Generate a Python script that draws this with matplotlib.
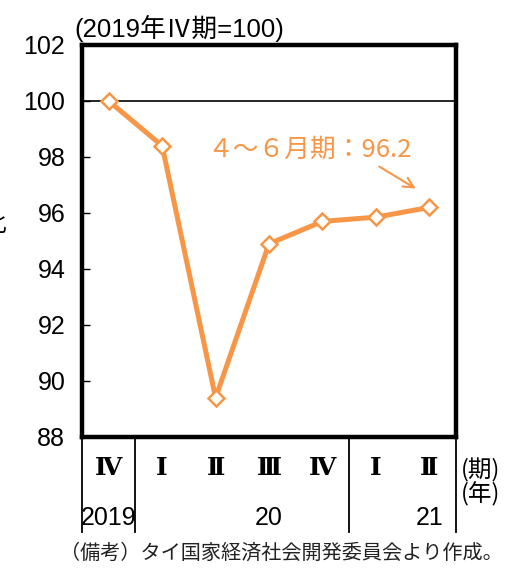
import matplotlib
matplotlib.use("Agg")
import matplotlib.pyplot as plt

plt.rcParams['font.family'] = ['Liberation Sans', 'Noto Sans CJK JP']

quarters = ["Ⅳ", "Ⅰ", "Ⅱ", "Ⅲ", "Ⅳ", "Ⅰ", "Ⅱ"]
years = ["2019", "20", "21"]
year_centers = [0, 3, 6]
year_bounds = [-0.5, 0.5, 4.5, 6.5]
index_vals = [100.0, 98.4, 89.4, 94.9, 95.7, 95.85, 96.2]

orange = "#F79646"
cjk = ['Noto Sans CJK JP', 'DejaVu Sans']

fig = plt.figure(figsize=(5.06, 5.69), dpi=100)
ax = fig.add_axes([82 / 506, 1 - 437 / 569, 374 / 506, 392 / 569])

x = list(range(len(index_vals)))
ax.axhline(100, color="black", lw=1.2, zorder=1)
ax.plot(x, index_vals, color=orange, lw=3.6, marker="D", ms=8,
        mfc="white", mec=orange, mew=1.8, zorder=3)

ax.set_xlim(-0.5, 6.5)
ax.set_ylim(88, 102)
ax.set_yticks(range(88, 103, 2))
ax.tick_params(axis="y", direction="in", length=6, width=1, labelsize=18, pad=12)
ax.set_xticks([])
for s in ax.spines.values():
    s.set_linewidth(3.2)

# table under the plot: quarters, years and separators
xt = ax.get_xaxis_transform()
for b in year_bounds:
    ax.plot([b, b], [0, -0.243], color="black", lw=1.3, transform=xt, clip_on=False)
for i, q in enumerate(quarters):
    ax.text(i, -0.079, q, transform=xt, ha="center", va="center", fontsize=18,
            fontweight="bold", family=['DejaVu Serif', 'Noto Sans CJK JP'])
for c, y in zip(year_centers, years):
    ax.text(c, -0.207, y, transform=xt, ha="center", va="center", fontsize=18)

fig.text(461 / 506, 1 - 470 / 569, "(期)", ha="left", va="center", fontsize=17, family=cjk)
fig.text(461 / 506, 1 - 494 / 569, "(年)", ha="left", va="center", fontsize=17, family=cjk)

fig.text(74 / 506, 1 - 28 / 569, "(2019年Ⅳ期=100)", ha="left", va="center", fontsize=18.5,
         family=['Liberation Sans', 'Noto Sans CJK JP'])
fig.text(60 / 506, 1 - 553 / 569, "（備考）タイ国家経済社会開発委員会より作成。",
         ha="left", va="center", fontsize=14.5, family=cjk, color="#222222")
fig.text(0.012, 1 - 225 / 569, "比", ha="right", va="center", fontsize=17, family=cjk)

ax.text(5.68, 98.25, "４～６月期：96.2", ha="right", va="center", fontsize=18.5,
        color=orange, family=cjk)
ax.annotate("", xy=(5.79, 96.82), xytext=(5.02, 97.71),
            arrowprops=dict(arrowstyle="->", color=orange, lw=1.5, mutation_scale=18))

fig.savefig("out.png", dpi=100)
